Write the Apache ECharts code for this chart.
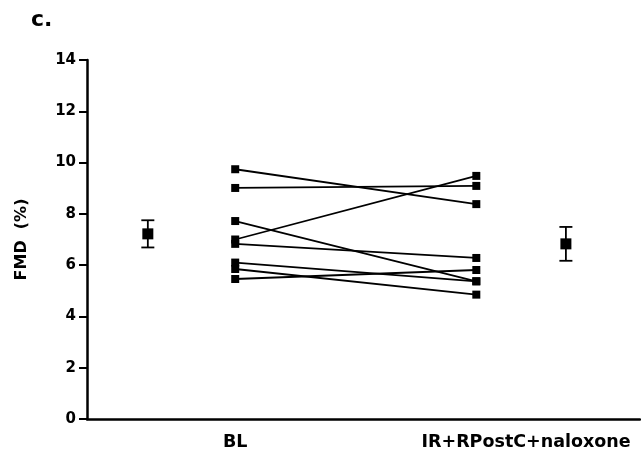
<!DOCTYPE html>
<html>
<head>
<meta charset="utf-8">
<script src="https://cdn.jsdelivr.net/npm/echarts@6/dist/echarts.min.js"></script>
<style>html,body{margin:0;padding:0;background:#fff;}#c{width:641px;height:453px;}</style>
</head>
<body>
<div id="c"></div>
<script>
// ---- data ----
const groupLabels = ['BL', 'IR+RPostC+naloxone'];
const groupLabelPos = [26.8, 79.4];
const groupX = [26.8, 70.4];          // individual subject columns
const meanX = [11.0, 86.6];           // mean ± SEM markers
const baseline = [9.74, 9.01, 7.72, 7.00, 6.83, 6.10, 5.85, 5.46];
const postC    = [8.38, 9.09, 5.37, 9.48, 6.28, 5.37, 4.85, 5.81];
const means = [7.22, 6.83];
const sem = [0.53, 0.66];
const yTicks = [0, 2, 4, 6, 8, 10, 12, 14];

const font = 'DejaVu Sans';
const chart = echarts.init(document.getElementById('c'));

const series = baseline.map((b, i) => ({
  type: 'line',
  data: [[groupX[0], b], [groupX[1], postC[i]]],
  symbol: 'rect',
  symbolSize: 8,
  lineStyle: { color: '#000', width: 1.8 },
  itemStyle: { color: '#000' },
  animation: false,
  z: 3
}));

series.push({
  type: 'custom',
  data: means.map((m, i) => [meanX[i], m, sem[i]]),
  animation: false,
  z: 4,
  renderItem: function (params, api) {
    const x = api.value(0), m = api.value(1), e = api.value(2);
    const top = api.coord([x, m + e]);
    const bot = api.coord([x, m - e]);
    const c = api.coord([x, m]);
    const cap = 6.5, s = 5.5;
    const ls = { stroke: '#000', lineWidth: 1.8 };
    return {
      type: 'group',
      children: [
        { type: 'line', shape: { x1: top[0], y1: top[1], x2: bot[0], y2: bot[1] }, style: ls },
        { type: 'line', shape: { x1: top[0] - cap, y1: top[1], x2: top[0] + cap, y2: top[1] }, style: ls },
        { type: 'line', shape: { x1: bot[0] - cap, y1: bot[1], x2: bot[0] + cap, y2: bot[1] }, style: ls },
        { type: 'rect', shape: { x: c[0] - s, y: c[1] - s, width: 2 * s, height: 2 * s }, style: { fill: '#000' } }
      ]
    };
  }
});

chart.setOption({
  animation: false,
  backgroundColor: '#fff',
  title: {
    text: 'c.',
    left: 26, top: 4,
    textStyle: { fontFamily: font, fontWeight: 'bold', fontSize: 22, color: '#000' }
  },
  grid: { left: 87, right: 1, top: 60, bottom: 34, containLabel: false },
  xAxis: {
    type: 'value', min: 0, max: 100,
    splitLine: { show: false },
    axisLine: { show: true, lineStyle: { color: '#000', width: 2.5 } },
    axisTick: { show: false },
    axisLabel: {
      customValues: groupLabelPos,
      formatter: (v, i) => {
        const k = groupLabelPos.indexOf(v);
        return groupLabels[k >= 0 ? k : i];
      },
      margin: 14,
      color: '#000', fontFamily: font, fontWeight: 'bold', fontSize: 17.5
    }
  },
  yAxis: {
    type: 'value', min: 0, max: 14, interval: 2,
    name: 'FMD  (%)',
    nameLocation: 'middle',
    nameGap: 57,
    nameTextStyle: { fontFamily: font, fontWeight: 'bold', fontSize: 16, color: '#000' },
    splitLine: { show: false },
    axisLine: { show: true, lineStyle: { color: '#000', width: 2.5 } },
    axisTick: { show: true, length: 8, lineStyle: { color: '#000', width: 2 } },
    axisLabel: {
      formatter: v => (yTicks.indexOf(v) >= 0 ? String(v) : ''),
      margin: 11,
      color: '#000', fontFamily: font, fontWeight: 'bold', fontSize: 15
    }
  },
  series: series
});
</script>
</body>
</html>
